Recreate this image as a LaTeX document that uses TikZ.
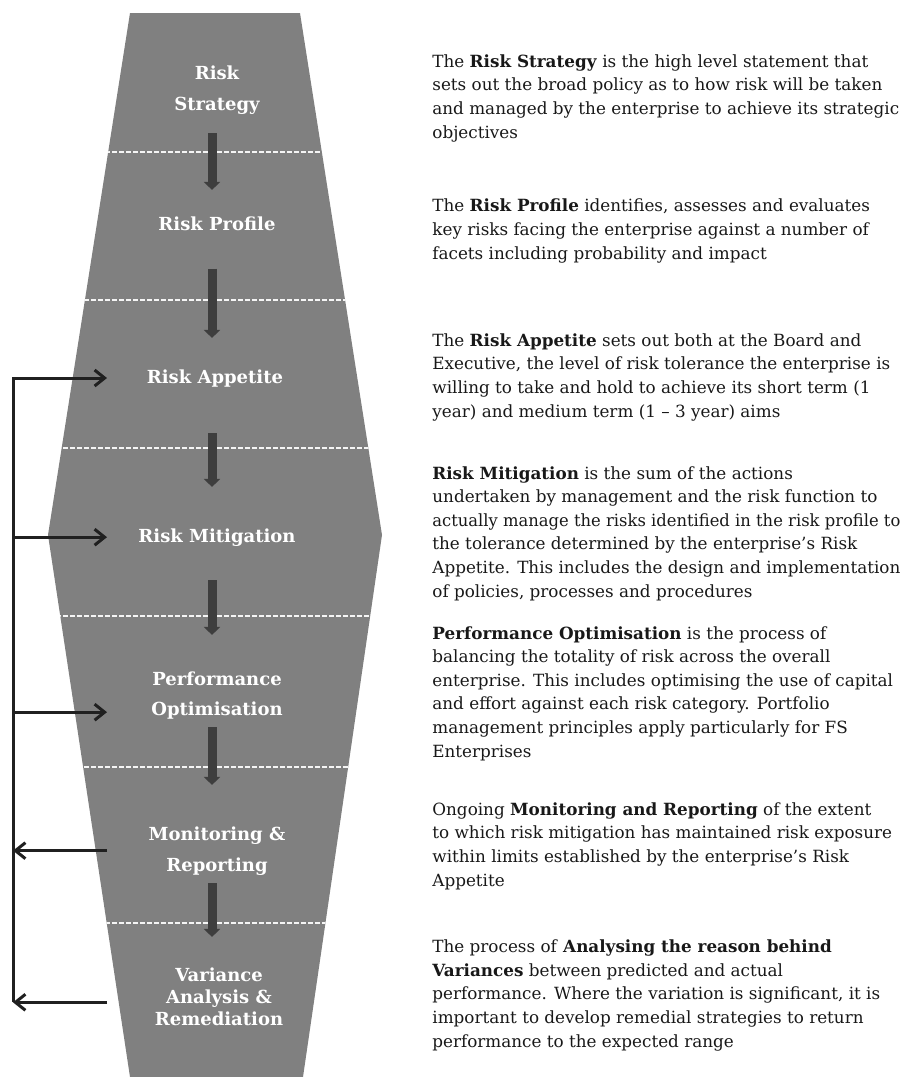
\documentclass[tikz,border=0pt]{standalone}
\usepackage{xcolor}
\usepackage{fontspec}
\usepackage{graphicx}
\usepackage{tikz}
\usetikzlibrary{calc}
\usetikzlibrary{arrows.meta}
\setmainfont{DejaVu Serif}

\definecolor{stagegray}{RGB}{128,128,128}
\definecolor{flowgray}{RGB}{62,62,62}
\definecolor{feedblack}{RGB}{32,32,32}
\definecolor{textblack}{RGB}{24,24,24}

% squeeze one over-long line of a description
\newcommand{\fitline}[1]{\resizebox{234pt}{\height}{#1}}

\begin{document}
\begin{tikzpicture}[x=0.5pt,y=-0.5pt,
    stage/.style={text=white,font=\bfseries\fontsize{9}{15.5}\selectfont,align=center,inner sep=0pt,anchor=base},
    note/.style={text=textblack,font=\fontsize{8.4}{11.8}\selectfont,align=left,anchor=base west,inner sep=0pt},
    flow/.style={draw=flowgray,line width=4.5pt,-{Triangle[length=4pt,width=8pt]}},
    feed/.style={draw=feedblack,line width=1.5pt},
    tip/.style={-{Straight Barb[length=5pt,width=8pt]}},
    divider/.style={draw=white!92!gray,line width=1pt,dash pattern=on 2.5pt off 1pt}]
    \useasboundingbox (0,0) rectangle (909,1077);

    % Funnel body with the dashed dividers
    \begin{scope}
        \clip (130,13) -- (300,13) -- (382,535) -- (303,1077) -- (130,1077) -- (48,535) -- cycle;
        \fill[stagegray] (0,0) rectangle (450,1077);
        \foreach \y in {152,300,448,616,767,923}
            \draw[divider] (0,\y) -- (450,\y);%
    \end{scope}

    % Stage labels (placed by the baseline of their last line)
    \node[stage] (strategy) at (217,110) {Risk\\Strategy};%
    \node[stage] (profile) at (217,230) {Risk Profile};%
    \node[stage] (appetite) at (215,383) {Risk Appetite};%
    \node[stage] (mitigation) at (217,542) {Risk Mitigation};%
    \node[stage,font=\bfseries\fontsize{9}{15}\selectfont] (perform) at (217,715) {Performance\\Optimisation};%
    \node[stage] (monitor) at (217,871) {Monitoring \&\\Reporting};%
    \node[stage,font=\bfseries\fontsize{9}{11}\selectfont] (variance) at (219,1025) {Variance\\Analysis \&\\Remediation};%

    % Arrows down the funnel
    \coordinate (spine) at (212,0);
    \foreach \from/\to/\s/\e in {strategy/profile/9.5/13, profile/appetite/19/15.5,
            appetite/mitigation/23/20.5, mitigation/perform/17/18,
            perform/monitor/4/20.5, monitor/variance/4/15}
        \draw[flow,shorten <=\s pt,shorten >=\e pt] (spine |- \from.south) -- (spine |- \to.north);%

    % Feedback loop on the left
    \coordinate (back) at (13,0);
    \coordinate (edge) at (107,0);
    \coordinate (optimline) at ([yshift=3.5pt]perform.south);
    \coordinate (remedyline) at ([yshift=-3pt]variance.center);
    \draw[feed,tip] (back |- remedyline) -- (back |- appetite) -- (edge |- appetite);%
    \draw[feed,tip] (back |- mitigation) -- (edge |- mitigation);%
    \draw[feed,tip] (back |- optimline) -- (edge |- optimline);%
    \draw[feed,tip] (edge |- monitor) -- (back |- monitor);%
    \draw[feed,tip] (edge |- remedyline) -- (back |- remedyline);%

    % Descriptions on the right (placed by the baseline of their last line)
    \node[note] (strategytext) at (432,138) {The \textbf{Risk Strategy} is the high level statement that\\
        sets out the broad policy as to how risk will be taken\\
        and managed by the enterprise to achieve its strategic\\
        objectives};%
    \node[note] (profiletext) at (432,259) {The \textbf{Risk Profile} identifies, assesses and evaluates\\
        key risks facing the enterprise against a number of\\
        facets including probability and impact};%
    \node[note] (appetitetext) at (432,417) {The \textbf{Risk Appetite} sets out both at the Board and\\
        Executive, the level of risk tolerance the enterprise is\\
        willing to take and hold to achieve its short term (1\\
        year) and medium term (1 -- 3 year) aims};%
    \node[note] (mitigationtext) at (432,597) {\textbf{Risk Mitigation} is the sum of the actions\\
        undertaken by management and the risk function to\\
        \fitline{actually manage the risks identified in the risk profile to}\\
        the tolerance determined by the enterprise's Risk\\
        Appetite. This includes the design and implementation\\
        of policies, processes and procedures};%
    \node[note] (performtext) at (432,757) {\textbf{Performance Optimisation} is the process of\\
        balancing the totality of risk across the overall\\
        enterprise. This includes optimising the use of capital\\
        and effort against each risk category. Portfolio\\
        management principles apply particularly for FS\\
        Enterprises};%
    \node[note] (monitortext) at (432,886) {Ongoing \textbf{Monitoring and Reporting} of the extent\\
        to which risk mitigation has maintained risk exposure\\
        within limits established by the enterprise's Risk\\
        Appetite};%
    \node[note] (variancetext) at (432,1047) {The process of \textbf{Analysing the reason behind}\\
        \textbf{Variances} between predicted and actual\\
        performance. Where the variation is significant, it is\\
        important to develop remedial strategies to return\\
        performance to the expected range};%
\end{tikzpicture}
\end{document}
